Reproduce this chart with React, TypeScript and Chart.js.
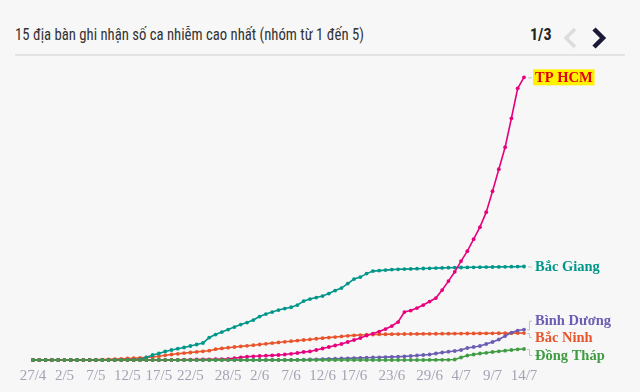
import React, { useEffect, useRef } from "react";
import { Chart, registerables } from "chart.js";

Chart.register(...registerables);

const dates = [
  "27/4", "28/4", "29/4", "30/4",
  "1/5", "2/5", "3/5", "4/5", "5/5", "6/5", "7/5", "8/5", "9/5", "10/5",
  "11/5", "12/5", "13/5", "14/5", "15/5", "16/5", "17/5", "18/5", "19/5", "20/5",
  "21/5", "22/5", "23/5", "24/5", "25/5", "26/5", "27/5", "28/5", "29/5", "30/5", "31/5",
  "1/6", "2/6", "3/6", "4/6", "5/6", "6/6", "7/6", "8/6", "9/6", "10/6",
  "11/6", "12/6", "13/6", "14/6", "15/6", "16/6", "17/6", "18/6", "19/6", "20/6",
  "21/6", "22/6", "23/6", "24/6", "25/6", "26/6", "27/6", "28/6", "29/6", "30/6",
  "1/7", "2/7", "3/7", "4/7", "5/7", "6/7", "7/7", "8/7", "9/7", "10/7",
  "11/7", "12/7", "13/7", "14/7",
];

const tickDates = [
  "27/4", "2/5", "7/5", "12/5", "17/5", "22/5", "28/5", "2/6",
  "7/6", "12/6", "17/6", "23/6", "29/6", "4/7", "9/7", "14/7",
];

const seriesNames = ["TP HCM", "Bắc Giang", "Bắc Ninh", "Đồng Tháp", "Bình Dương"];

const tpHcm = [
  0, 0, 0, 0, 0, 0, 0, 0, 0, 0,
  0, 0, 0, 0, 0, 0, 0, 0, 0, 0,
  0, 0, 6, 12, 18, 24, 30, 36, 42, 48,
  54, 66, 108, 156, 198, 222, 240, 258, 276, 300,
  330, 372, 420, 480, 516, 600, 690, 780, 870, 960,
  1080, 1200, 1320, 1470, 1590, 1710, 1860, 2040, 2280, 2880,
  2970, 3120, 3300, 3510, 3720, 4200, 4740, 5298, 5940, 6540,
  7260, 7980, 8880, 10140, 11460, 12780, 14520, 16320, 16980,
];

const bacGiang = [
  0, 0, 0, 0, 0, 0, 0, 0, 0, 0,
  0, 0, 0, 6, 12, 18, 24, 30, 150, 300,
  390, 510, 600, 678, 750, 840, 930, 1020, 1350, 1530,
  1680, 1830, 1980, 2130, 2250, 2400, 2610, 2760, 2880, 3000,
  3090, 3168, 3300, 3540, 3660, 3750, 3840, 3990, 4170, 4320,
  4590, 4860, 4980, 5190, 5340, 5370, 5400, 5430, 5448, 5460,
  5472, 5484, 5496, 5508, 5520, 5532, 5544, 5550, 5556, 5562,
  5568, 5574, 5580, 5586, 5592, 5598, 5604, 5610, 5616,
];

const bacNinh = [
  0, 0, 0, 0, 0, 0, 0, 0, 0, 0,
  12, 24, 36, 54, 72, 90, 108, 126, 150, 180,
  228, 282, 330, 372, 414, 450, 486, 522, 558, 648,
  696, 738, 780, 816, 852, 888, 930, 972, 1014, 1056,
  1092, 1128, 1164, 1200, 1236, 1278, 1314, 1350, 1380, 1416,
  1452, 1482, 1500, 1518, 1530, 1542, 1548, 1554, 1560, 1562,
  1566, 1568, 1572, 1574, 1578, 1580, 1584, 1586, 1590, 1592,
  1596, 1598, 1602, 1604, 1608, 1610, 1614, 1616, 1620,
];

const dongThap = [
  0, 0, 0, 0, 0, 0, 0, 0, 0, 0,
  0, 0, 0, 0, 0, 0, 0, 0, 0, 0,
  0, 0, 0, 0, 0, 0, 0, 0, 0, 0,
  0, 0, 0, 0, 0, 0, 0, 0, 0, 0,
  0, 0, 0, 0, 0, 0, 0, 0, 0, 0,
  0, 0, 0, 0, 0, 0, 0, 0, 0, 0,
  0, 0, 0, 6, 6, 12, 12, 30, 150, 270,
  330, 390, 432, 480, 522, 558, 600, 642, 660,
];

const binhDuong = [
  0, 0, 0, 0, 0, 0, 0, 0, 0, 0,
  0, 0, 0, 0, 0, 0, 0, 0, 0, 0,
  0, 0, 0, 0, 0, 0, 0, 0, 0, 0,
  0, 0, 0, 0, 0, 0, 0, 0, 0, 0,
  0, 6, 12, 18, 30, 42, 54, 66, 78, 90,
  102, 114, 126, 138, 150, 162, 174, 186, 198, 216,
  240, 270, 300, 330, 390, 450, 498, 540, 600, 720,
  780, 840, 960, 1080, 1230, 1440, 1650, 1770, 1830,
];

const seriesValues = [tpHcm, bacGiang, bacNinh, dongThap, binhDuong];
const seriesColors = ["#e6007e", "#00968a", "#e8542c", "#3f9c42", "#6a5db4"];
// drawing order (lower = on top)
const seriesOrder = [1, 3, 4, 0, 2];
// label vertical shift (px) relative to the series end point
const labelShift = [0, 0, 4, 6, -9];

const endLabels = {
  id: "endLabels",
  afterDatasetsDraw(chart: any) {
    const ctx = chart.ctx;
    ctx.save();
    chart.data.datasets.forEach((ds: any, i: number) => {
      const meta = chart.getDatasetMeta(i);
      const pt = meta.data[meta.data.length - 1];
      if (!pt) return;
      const x = pt.x;
      const y = pt.y;
      const dy = labelShift[i];
      const ly = y + dy;
      const tx = x + 11;
      ctx.strokeStyle = "#c4c4c4";
      ctx.lineWidth = 1;
      ctx.beginPath();
      if (Math.abs(dy) < 1) {
        ctx.moveTo(x + 4, y + 0.5);
        ctx.lineTo(x + 8, y + 0.5);
      } else {
        ctx.moveTo(x + 3, y + 0.5);
        ctx.lineTo(x + 5.5, y + 0.5);
        ctx.lineTo(x + 5.5, ly + 0.5);
        ctx.lineTo(x + 8, ly + 0.5);
      }
      ctx.stroke();
      ctx.font = "bold 14.5px 'Liberation Serif', serif";
      ctx.textBaseline = "middle";
      ctx.textAlign = "left";
      const name = seriesNames[i];
      if (i === 0) {
        const w = ctx.measureText(name).width;
        ctx.fillStyle = "#fff200";
        ctx.fillRect(tx - 2, ly - 8, w + 4, 16);
        ctx.fillStyle = "#e00010";
      } else {
        ctx.fillStyle = ds.borderColor;
      }
      ctx.fillText(name, tx, ly + 1);
    });
    ctx.restore();
  },
};

export default function App() {
  const ref = useRef<HTMLCanvasElement | null>(null);

  useEffect(() => {
    if (!ref.current) return;
    const chart = new Chart(ref.current, {
      type: "line",
      data: {
        labels: dates,
        datasets: seriesValues.map((vals, i) => ({
          label: seriesNames[i],
          data: vals,
          order: seriesOrder[i],
          borderColor: seriesColors[i],
          backgroundColor: seriesColors[i],
          pointBackgroundColor: seriesColors[i],
          pointBorderColor: seriesColors[i],
          borderWidth: 1.6,
          pointRadius: 1.9,
          pointBorderWidth: 0,
          pointHoverRadius: 1.9,
          tension: 0,
          clip: false as any,
        })),
      },
      options: {
        animation: false,
        responsive: false,
        maintainAspectRatio: false,
        devicePixelRatio: 1,
        layout: { padding: { left: 33, right: 116, top: 77, bottom: 0 } },
        plugins: {
          legend: { display: false },
          tooltip: { enabled: false },
        },
        scales: {
          x: {
            type: "category",
            grid: { display: false, drawTicks: false },
            border: { display: false },
            ticks: {
              autoSkip: false,
              maxRotation: 0,
              minRotation: 0,
              padding: 7,
              color: "#a3a3b5",
              font: { family: "'Liberation Serif', serif", size: 15 },
              callback: (_v: any, idx: number) =>
                tickDates.includes(dates[idx]) ? dates[idx] : "",
            },
            afterFit: (s: any) => {
              s.height = 32;
            },
          },
          y: { display: false, min: 0, max: 17000 },
        },
      },
      plugins: [endLabels],
    });
    return () => chart.destroy();
  }, []);

  return (
    <div
      style={{
        position: "fixed",
        left: 0,
        top: 0,
        width: 640,
        height: 392,
        background: "#f7f7f7",
        overflow: "hidden",
      }}
    >
      <div
        style={{
          position: "absolute",
          left: 15,
          top: 25,
          fontFamily: "'Roboto Condensed', Roboto, sans-serif",
          fontSize: 16,
          lineHeight: "20px",
          color: "#333",
          whiteSpace: "nowrap",
          transform: "scaleX(0.92)",
          transformOrigin: "0 0",
        }}
      >
        15 địa bàn ghi nhận số ca nhiễm cao nhất (nhóm từ 1 đến 5)
      </div>
      <div
        style={{
          position: "absolute",
          left: 530,
          top: 25,
          fontFamily: "'Roboto Condensed', Roboto, sans-serif",
          fontWeight: "bold",
          fontSize: 16,
          lineHeight: "20px",
          color: "#222",
        }}
      >
        1/3
      </div>
      <svg
        style={{ position: "absolute", left: 560, top: 24 }}
        width={60}
        height={28}
      >
        <polyline
          points="15,5 6,14 15,23"
          stroke="#dddddd"
          strokeWidth={3.5}
          fill="none"
        />
        <polyline
          points="34,5 43,14 34,23"
          stroke="#1a1a38"
          strokeWidth={4.5}
          fill="none"
        />
      </svg>
      <div
        style={{
          position: "absolute",
          left: 15,
          top: 54,
          width: 610,
          height: 2,
          background: "#e3e3e3",
        }}
      />
      <canvas
        ref={ref}
        width={640}
        height={392}
        style={{ position: "absolute", left: 0, top: 0, width: 640, height: 392 }}
      />
    </div>
  );
}
